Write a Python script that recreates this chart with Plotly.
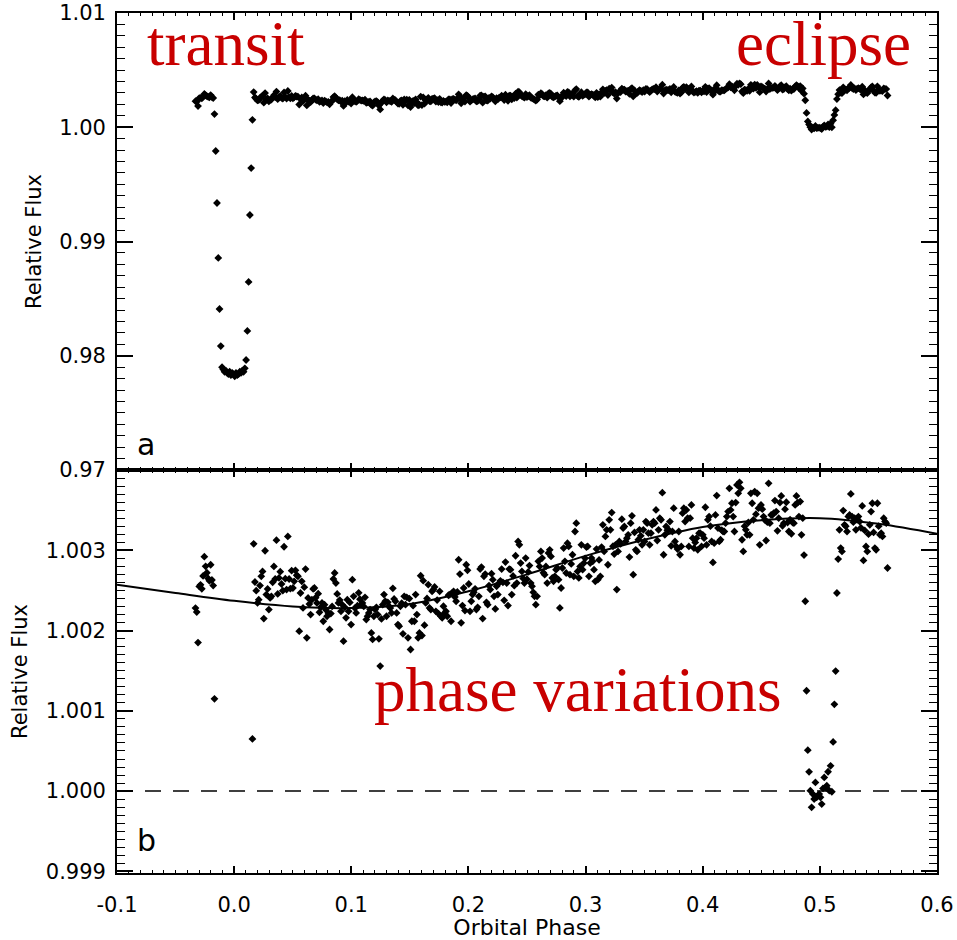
import numpy as np
import plotly.graph_objects as go

# ---------------- data (relative flux, in ppm above 1.0) ----------------
phase_start = -0.0330      # phase of first bin
phase_step = 0.00108       # bin width in orbital phase

pre_transit_ppm = [2280, 2230, 1850, 2550, 2570, 2520, 2680, 2920, 2800, 2720,
                   2650, 2620, 2820, 2630, 2560]

transit_ppm = [1150, -2080, -6630, -11440, -15910, -19150,
               -21000, -21200, -21400, -21300, -21500, -21600, -21400, -21700,
               -21500, -21600, -21800, -21500, -21700, -21600, -21400, -21500,
               -21300, -21400, -21100,
               -20370, -17830, -13540, -7680, -3570, 650]

quad1_ppm = [3080, 2605, 2497, 2344, 2385, 2560, 2675, 2737, 2149, 2994,
             2448, 2518, 2261, 2406, 2427, 2601, 2799, 2642, 3126, 2456,
             2655, 2733, 2580, 2497, 3044, 2646, 2510, 3172, 2642, 2522,
             2746, 2530, 2613, 2750, 2690, 2675, 1992, 2468, 2613, 2282,
             2540, 2766, 1909, 2406, 2330, 2199, 2385, 2518, 2530, 2410,
             2344, 2460, 2228, 2290, 2344, 2116, 2323, 2260, 2178, 2220,
             2013, 2212, 2300, 2642, 2717, 2592, 2456, 2344, 2380, 2240,
             2323, 1868, 2290, 2158, 2385, 2240, 2350, 2075, 2634, 2427,
             2280, 2220, 2310, 2470, 2390]

quad2_ppm = [2323, 2344, 2300, 2414, 2137, 2178, 2220, 2261, 1971, 1889,
             2178, 2261, 2290, 2199, 1897, 1557, 2145, 2323, 2448, 2365,
             2178, 2352, 2303, 2280, 2220, 2526, 2394, 2365, 2220, 2075,
             2054, 2303, 2340, 1959, 2427, 2323, 2414, 1909, 2398, 1764,
             2116, 2310, 2116, 2448, 2199, 1909, 1971, 2683, 1938, 2621,
             2067, 2344, 2400, 2572, 2282, 2261, 2489, 2510, 2543, 2240,
             2380, 2212, 2489, 2178, 2158, 2303, 2220, 2240, 2178, 2440,
             2448, 2116, 2468, 2489, 2419, 2365, 2480, 2882, 2704, 2096,
             2311, 2530, 2249, 2820, 2750, 2580, 2240, 2365, 2448, 2476,
             2520, 2261, 2290, 2427, 2766, 2791, 2149, 2675, 2704, 2352,
             2323, 2560, 2510, 2708, 2634, 2427, 2270, 2551, 2448, 2592,
             2620, 2766, 2601, 2377, 2853, 2592, 2311, 2766, 2758, 2448,
             2680, 2559, 2932, 2592, 3110, 3068, 2841, 2737, 2650, 2592,
             2903, 2640, 2730, 2810]

quad3_ppm = [2592, 2551, 2476, 2427, 2323, 2427, 2862, 2799, 2986, 2903, 2720,
             2696, 2799, 2592, 2965, 3006, 2924, 2655, 2613, 2675, 2758, 2780,
             2634, 2282, 2530, 2779, 3027, 2862, 2717, 3089, 3048, 2696, 2830,
             2944, 2675, 3234, 3338, 2737, 2655, 2799, 3068, 2758, 2841, 2900,
             3040, 3048, 2675, 2841, 2903, 2862, 2758, 2613, 3015, 2634, 2880,
             2675, 3040, 3317, 2986, 3172, 3255, 2820, 3379, 3255, 3470, 3050,
             2953, 3068, 2510, 2986, 3110, 3081, 3387, 3276, 3296, 3110, 3150,
             3193, 2915, 3338, 3429, 2696, 3222, 3006, 2986, 3131, 3255, 3180,
             3068, 3255, 3110, 3358, 3338, 3213, 3068, 3213, 3317, 3358,
             3338, 3503, 3122, 3255, 3400, 3379, 3718, 2944, 3193, 3296, 3250,
             3255, 3358, 3056, 3234, 3524, 3110, 3048, 3015, 3234, 2944,
             3048, 3462, 3524, 3358, 3503, 3400, 3048, 3400, 3565, 3151,
             3027, 3098, 3151, 3006, 3213]

quad4_ppm = [3213, 3048, 3193, 3151, 3536, 3068, 3379, 3420, 3300,
             3110, 2849, 3089, 3441, 3681, 3276, 3110, 3131, 3250,
             3234, 3234, 3338, 3420, 3482, 3772, 3503, 3586, 3420,
             3234, 3594, 3814, 3710, 3847, 3772, 3131, 2986, 3300,
             3255, 3193, 3346, 3193, 3710, 3586, 3379, 3731, 3450,
             3710, 3524, 3068, 3565, 3512, 3420, 3379, 3122, 3350,
             3834, 3338, 3441, 3441, 3462, 3619, 3482, 3242, 3400,
             3594, 3677, 3304, 3338, 3512, 3598, 3346, 3234, 3380,
             3205, 3346, 3338, 3565, 3677, 3594, 3420,
             3607, 3193, 3400]

eclipse_ppm = [2940, 2365, 1250, 510, 240, 5, -202, -37, -99, 108, -78, -57,
               -37, -78, -161, 34, 171, 46, 67, 241, 5, 315, -8, 613, 1081,
               1495, 2468, 2890]

post_eclipse_ppm = [3255, 3027, 2986, 3495, 3317, 3300, 3234, 3420, 3441, 3702,
                    3420, 3350, 3400, 3255, 3379, 3420, 3358, 3280, 3553, 2874,
                    3247, 3048, 2986, 3200, 3317, 3482, 3586, 3222, 3027, 3006,
                    3586, 3300, 3193, 3213, 3172, 3400, 3358, 3338, 2779]

# phase-curve model
model_phase = [-0.1, -0.05, 0.0, 0.05, 0.1, 0.15, 0.2, 0.25, 0.3, 0.35, 0.4,
               0.45, 0.5, 0.55, 0.6]
model_ppm = [2572, 2468, 2370, 2300, 2280, 2330, 2490, 2700, 2930, 3130, 3290,
             3375, 3400, 3330, 3205]

x_ticks = [-0.1, 0.0, 0.1, 0.2, 0.3, 0.4, 0.5, 0.6]
top_y_ticks = [0.97, 0.98, 0.99, 1.00, 1.01]
bot_y_ticks = [0.999, 1.000, 1.001, 1.002, 1.003]

# ---------------- build ----------------
flux_ppm = (pre_transit_ppm + transit_ppm + quad1_ppm + quad2_ppm + quad3_ppm
            + quad4_ppm + eclipse_ppm + post_eclipse_ppm)
phase = phase_start + phase_step * np.arange(len(flux_ppm))
flux = 1.0 + np.array(flux_ppm) / 1e6
model_flux = 1.0 + np.array(model_ppm) / 1e6

FONT = "DejaVu Sans"
RED = "#c80000"

marker = dict(symbol="diamond", size=6, color="black", line=dict(width=0))

fig = go.Figure()
fig.add_trace(go.Scatter(x=phase, y=flux, mode="markers", marker=marker,
                         xaxis="x", yaxis="y", showlegend=False, hoverinfo="skip"))
fig.add_trace(go.Scatter(x=phase, y=flux, mode="markers", marker=marker,
                         xaxis="x2", yaxis="y2", showlegend=False, hoverinfo="skip"))
fig.add_trace(go.Scatter(x=model_phase, y=model_flux, mode="lines",
                         line=dict(color="black", width=2, shape="spline"),
                         xaxis="x2", yaxis="y2", showlegend=False, hoverinfo="skip"))

fig.add_shape(type="line", xref="x2 domain", yref="y2", x0=0, x1=1, y0=1.0, y1=1.0,
              line=dict(color="black", width=1.5, dash="16px,12px"))


def x_axis(**kw):
    d = dict(range=[-0.1, 0.6], tickmode="array", tickvals=x_ticks,
             ticktext=[f"{v:.1f}" for v in x_ticks],
             ticks="inside", ticklen=7, tickwidth=1.5, tickcolor="black",
             minor=dict(ticks="inside", tickmode="linear", tick0=0, dtick=0.01,
                        ticklen=3.5, tickwidth=1.2, tickcolor="black"),
             showline=True, linewidth=1.8, linecolor="black", mirror="allticks",
             showgrid=False, zeroline=False, automargin=False,
             tickfont=dict(family=FONT, size=21, color="black"))
    d.update(kw)
    return d


def y_axis(ticks_list, fmt, minor_dtick, **kw):
    d = dict(tickmode="array", tickvals=ticks_list,
             ticktext=[format(v, fmt) for v in ticks_list],
             ticks="inside", ticklen=16, tickwidth=1.5, tickcolor="black",
             minor=dict(ticks="inside", tickmode="linear", tick0=ticks_list[0],
                        dtick=minor_dtick, ticklen=8, tickwidth=1.2,
                        tickcolor="black"),
             showline=True, linewidth=1.8, linecolor="black", mirror="allticks",
             showgrid=False, zeroline=False, ticklabelstandoff=5, automargin=False,
             tickfont=dict(family=FONT, size=21, color="black"),
             title=dict(text="Relative Flux", standoff=12,
                        font=dict(family=FONT, size=21, color="black")))
    d.update(kw)
    return d


split = 0.4686
fig.update_layout(
    width=957, height=940,
    margin=dict(l=117, r=20, t=13, b=67),
    paper_bgcolor="white", plot_bgcolor="white",
    showlegend=False,
    xaxis=x_axis(domain=[0, 1], anchor="y", showticklabels=False),
    yaxis=y_axis(top_y_ticks, ".2f", 0.001, domain=[split, 1], anchor="x",
                 range=[0.97, 1.01]),
    xaxis2=x_axis(domain=[0, 1], anchor="y2", ticklabelstandoff=12,
                  title=dict(text="Orbital Phase", standoff=2,
                             font=dict(family=FONT, size=22, color="black"))),
    yaxis2=y_axis(bot_y_ticks, ".3f", 0.0001, domain=[0, split], anchor="x2",
                  range=[0.99898, 1.004]),
)

serif = dict(family="Liberation Serif", size=63, color=RED)
fig.add_annotation(text="transit", x=-0.0761, y=1.00729, xref="x", yref="y",
                   xanchor="left", yanchor="middle", showarrow=False, font=serif)
fig.add_annotation(text="eclipse", x=0.5798, y=1.00729, xref="x", yref="y",
                   xanchor="right", yanchor="middle", showarrow=False, font=serif)
fig.add_annotation(text="phase variations", x=0.1178, y=1.001255, xref="x2", yref="y2",
                   xanchor="left", yanchor="middle", showarrow=False, font=serif)

lab = dict(family=FONT, size=30, color="black")
fig.add_annotation(text="a", x=-0.0846, y=0.97219, xref="x", yref="y",
                   xanchor="left", yanchor="middle", showarrow=False, font=lab)
fig.add_annotation(text="b", x=-0.0846, y=0.999379, xref="x2", yref="y2",
                   xanchor="left", yanchor="middle", showarrow=False, font=lab)

fig.write_html("out.html")
